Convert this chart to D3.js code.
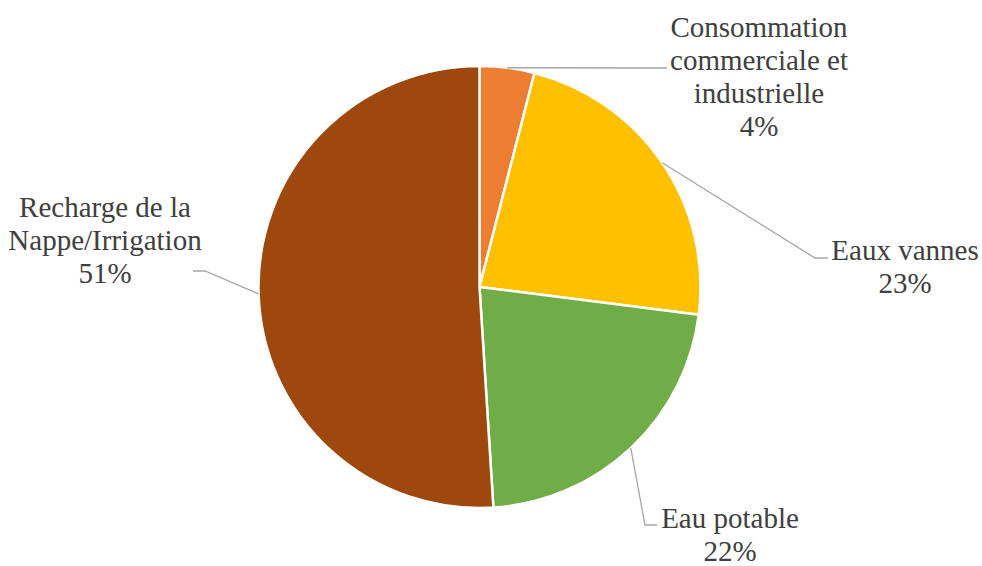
<!DOCTYPE html>
<html>
<head>
<meta charset="utf-8">
<script src="https://cdn.jsdelivr.net/npm/d3@7"></script>
<style>
  html, body { margin: 0; padding: 0; background: #fff; }
  #chart { position: relative; width: 982px; height: 566px; overflow: hidden; }
  svg { display: block; position: absolute; left: 0; top: 0; }
  .label {
    position: absolute;
    transform: translateX(-50%);
    white-space: nowrap;
    text-align: center;
    font-family: "Liberation Serif";
    font-size: 29px;
    line-height: 33.3px;
    color: #404040;
  }
</style>
</head>
<body>
<div id="chart"></div>
<script>
// Répartition des usages de l'eau
const categories = [
  "Consommation commerciale et industrielle",
  "Eaux vannes",
  "Eau potable",
  "Recharge de la Nappe/Irrigation"
];
const values = [4, 23, 22, 51];
const colors = ["#ED7D31", "#FFC000", "#70AD47", "#9E480E"];
// Label lines as displayed (wrapped)
const labelLines = [
  ["Consommation", "commerciale et", "industrielle"],
  ["Eaux vannes"],
  ["Eau potable"],
  ["Recharge de la", "Nappe/Irrigation"]
];

const W = 982, H = 566;
const cx = 479.5, cy = 287, R = 221;
const baselineOffset = 26.4; // first baseline below the top of a label box

// Label placement: text centre x, first baseline y, leader elbow and end points
const layout = [
  { tx: 759, ty: 37,  elbow: [667, 68],  end: [667, 68] },
  { tx: 905, ty: 260, elbow: [815, 258], end: [828, 258] },
  { tx: 730, ty: 528, elbow: [645, 525], end: [657, 525] },
  { tx: 105, ty: 217, elbow: [205, 271], end: [193, 271] }
];

const root = d3.select("#chart");
const svg = root.append("svg").attr("width", W).attr("height", H);

const data = categories.map((c, i) => ({ name: c, value: values[i], color: colors[i], lines: labelLines[i], lay: layout[i] }));

const pie = d3.pie().sort(null).value(d => d.value);
const arcs = pie(data);
const arc = d3.arc().innerRadius(0).outerRadius(R);
const total = d3.sum(values);

const g = svg.append("g").attr("transform", `translate(${cx},${cy})`);

g.selectAll("path.slice")
  .data(arcs)
  .join("path")
  .attr("class", "slice")
  .attr("d", arc)
  .attr("fill", d => d.data.color)
  .attr("stroke", "#fff")
  .attr("stroke-width", 2.5)
  .attr("stroke-linejoin", "round");

// Leader lines from the arc midpoint to the label
const onArc = a => {
  const m = (a.startAngle + a.endAngle) / 2;
  return [cx + R * Math.sin(m), cy - R * Math.cos(m)];
};

svg.selectAll("polyline.leader")
  .data(arcs)
  .join("polyline")
  .attr("class", "leader")
  .attr("points", d => [onArc(d), d.data.lay.elbow, d.data.lay.end].map(p => p.join(",")).join(" "))
  .attr("fill", "none")
  .attr("stroke", "#A6A6A6")
  .attr("stroke-width", 1.3);

// Labels: name lines followed by percentage
const fmt = d3.format(".0%");
root.selectAll("div.label")
  .data(arcs)
  .join("div")
  .attr("class", "label")
  .style("left", d => d.data.lay.tx + "px")
  .style("top", d => (d.data.lay.ty - baselineOffset) + "px")
  .each(function(d) {
    const el = d3.select(this);
    const lines = d.data.lines.concat([fmt(d.data.value / total)]);
    lines.forEach((s, i) => {
      if (i > 0) el.append("br");
      el.append("span").text(s);
    });
  });
</script>
</body>
</html>
